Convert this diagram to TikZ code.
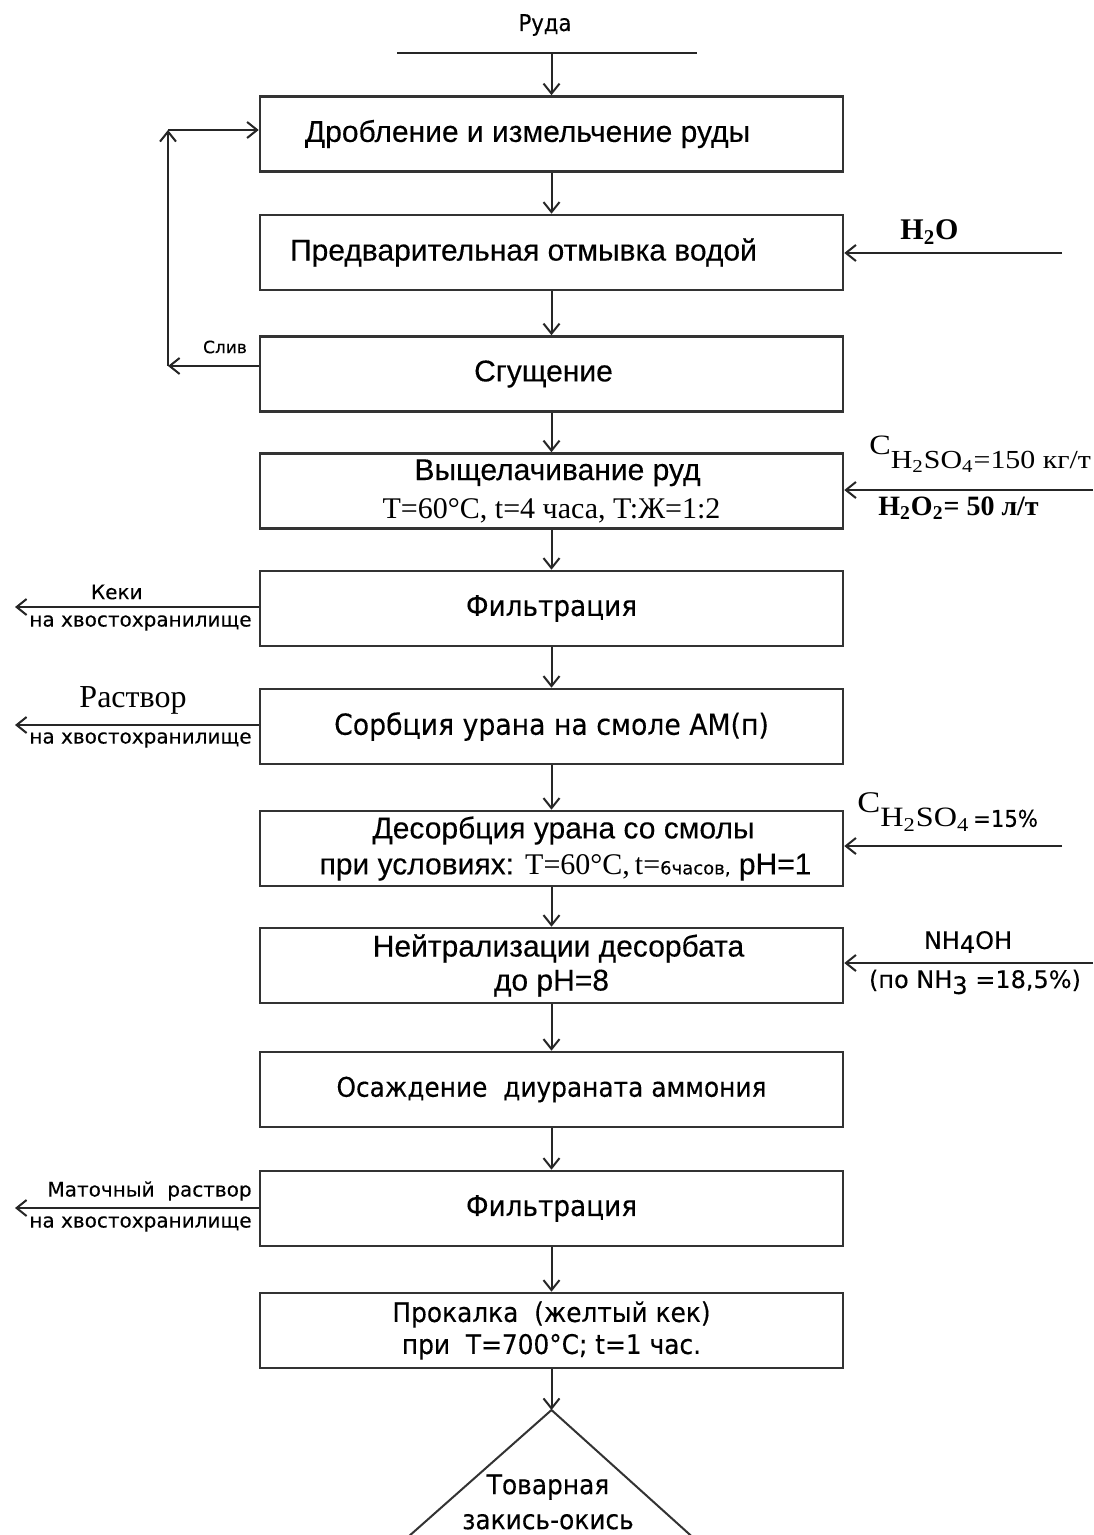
\documentclass[tikz,border=0pt]{standalone}
\usepackage{fontspec}
\setmainfont{Liberation Sans}
\newfontfamily\nar[FakeBold=0.25]{Liberation Sans}
\newfontfamily\tah[FakeStretch=0.92,FakeBold=0.25]{DejaVu Sans}
\newfontfamily\tahs[FakeBold=0.15]{DejaVu Sans}
\newfontfamily\tim{Liberation Serif}
\newfontfamily\timw[FakeStretch=1.15]{Liberation Serif}
\usetikzlibrary{arrows.meta}

\newcommand{\fs}[1]{\fontsize{#1}{#1}\selectfont}

\begin{document}
\begin{tikzpicture}[x=0.5pt,y=-0.5pt,
  stagebox/.style={draw=black!80, line width=1.3pt, minimum width=291.5pt,
    minimum height=37.5pt, inner sep=0pt, align=center},
  flow/.style={line width=1pt, draw=black!85,
    -{Straight Barb[length=5pt,width=8pt,line width=1pt]}},
  plain/.style={line width=1pt, draw=black!85},
  lbl/.style={inner sep=0pt, align=center},
  narbox/.style={font=\nar\fontsize{15}{18}\selectfont},
  tahbox/.style={font=\tah\fontsize{13.5}{18}\selectfont},
  side/.style={inner sep=0pt, font=\tahs\fs{10}}]

\useasboundingbox (0,0) rectangle (1093,1535);
\clip (0,0) rectangle (1093,1535);
\fill[white] (0,0) rectangle (1093,1535);

% ore feed
\node[lbl, font=\tah\fs{11.5}] (ore) at (545,25) {Руда};
\coordinate (oreL) at (397,53);
\coordinate (oreR) at (697,53);
\coordinate (oreM) at (551.5,53);
\draw[plain] (oreL) -- (oreR);

% process stages
\node[stagebox, narbox] (b1) at (551.5,134) {\hspace*{-24pt}Дробление и измельчение руды};
\node[stagebox, narbox] (b2) at (551.5,252.5) {\hspace*{-28pt}Предварительная отмывка водой};
\node[stagebox, narbox] (b3) at (551.5,374) {\hspace*{-8pt}Сгущение};
\node[stagebox, narbox] (b4) at (551.5,491)
  {\hspace*{6pt}Выщелачивание руд\\[1pt]{\tim\fs{15}T=60°C, t=4 часа, T:Ж=1:2}};
\node[stagebox, tahbox, font=\tah\fs{14.3}] (b5) at (551.5,608.5) {Фильтрация};
\node[stagebox, tahbox, font=\tah\fs{14.5}] (b6) at (551.5,726.5) {Сорбция урана на смоле АМ(п)};
\node[stagebox, narbox] (b7) at (551.5,848.5)
  {\hspace*{12pt}Десорбция урана со смолы\\[0pt]\hspace*{14pt}при условиях: {\tim\fs{15}T=60°C,\,t=}{\tahs\fs{9}6часов,} pH=1};
\node[stagebox, narbox] (b8) at (551.5,965.5) {\hspace*{7pt}Нейтрализации десорбата\\[-1pt]до pH=8};
\node[stagebox, tahbox] (b9) at (551.5,1089.5) {Осаждение \ диураната аммония};
\node[stagebox, tahbox, font=\tah\fs{14.3}] (b10) at (551.5,1208.5) {Фильтрация};
\node[stagebox, tahbox] (b11) at (551.5,1330.5) {Прокалка \ (желтый кек)\\[-2pt]при \ T=700°C; t=1 час.};

% final product
\coordinate (apex) at (551.5,1410);
\draw[line width=1pt, draw=black!80] (apex) -- (718,1560) -- (382,1560) -- cycle;
\node[lbl, font=\tah\fs{13.5}] (prod) at (548,1502) {Товарная\\[4pt]закись-окись};

% main flow
\draw[flow] (oreM) -- (b1.north);
\draw[flow] (b1) -- (b2);
\draw[flow] (b2) -- (b3);
\draw[flow] (b3) -- (b4);
\draw[flow] (b4) -- (b5);
\draw[flow] (b5) -- (b6);
\draw[flow] (b6) -- (b7);
\draw[flow] (b7) -- (b8);
\draw[flow] (b8) -- (b9);
\draw[flow] (b9) -- (b10);
\draw[flow] (b10) -- (b11);
\draw[flow] (b11) -- (apex);

% overflow return loop
\coordinate (fb1) at (168,366);
\coordinate (fb2) at (168,130);
\draw[flow] (b3.west |- fb1) -- (fb1);
\draw[flow] (fb1) -- (fb2);
\draw[flow] (fb2) -- (fb2 -| b1.west);
\node[side, font=\tahs\fs{8.5}] (sliv) at (225,347) {Слив};

% reagent inputs
\coordinate (in2) at (1062,253);
\draw[flow] (in2) -- (in2 -| b2.east);
\node[lbl, anchor=west, font=\tim\bfseries\fs{15}] (h2o) at (900,232) {H\textsubscript{2}O};

\coordinate (in4) at (1093,490);
\draw[flow] (in4) -- (in4 -| b4.east);
\node[lbl, anchor=west, font=\timw\fs{13}] (acid1) at (869,454)
  {{\fs{14}C}\raisebox{-7pt}{H\textsubscript{2}SO\textsubscript{4}=150 кг/т}};
\node[lbl, anchor=west, font=\tim\bfseries\fs{14}] (perox) at (878,508) {H\textsubscript{2}O\textsubscript{2}= 50 л/т};

\coordinate (in7) at (1062,846);
\draw[flow] (in7) -- (in7 -| b7.east);
\node[lbl, anchor=west, font=\timw\fs{14}] (acid2) at (857,812)
  {{\fs{15}C}\raisebox{-7pt}{H\textsubscript{2}SO\textsubscript{4}{\tah\fs{11.5}\,=15\%}}};

\coordinate (in8) at (1093,963);
\draw[flow] (in8) -- (in8 -| b8.east);
\node[lbl, font=\tahs\fs{12}] (amm) at (968,942) {NH\raisebox{-2pt}{4}OH};
\node[lbl, font=\tahs\fs{12}] (ammc) at (975,982) {(по NH\raisebox{-3pt}{3} =18,5\%)};

% waste outputs
\coordinate (out5) at (15,607);
\draw[flow] (b5.west |- out5) -- (out5);
\node[side, anchor=east] (keki) at (143,592) {Кеки};
\node[side, anchor=east] (tail1) at (252,623) {на хвостохранилище};

\coordinate (out6) at (15,725);
\draw[flow] (b6.west |- out6) -- (out6);
\node[lbl, font=\tim\fs{16}] (rastv) at (133,700) {Раствор};
\node[side, anchor=east] (tail2) at (252,740) {на хвостохранилище};

\coordinate (out10) at (15,1208);
\draw[flow] (b10.west |- out10) -- (out10);
\node[side, anchor=east] (mother) at (252,1191) {Маточный \ раствор};
\node[side, anchor=east] (tail3) at (252,1224) {на хвостохранилище};

\end{tikzpicture}
\end{document}
